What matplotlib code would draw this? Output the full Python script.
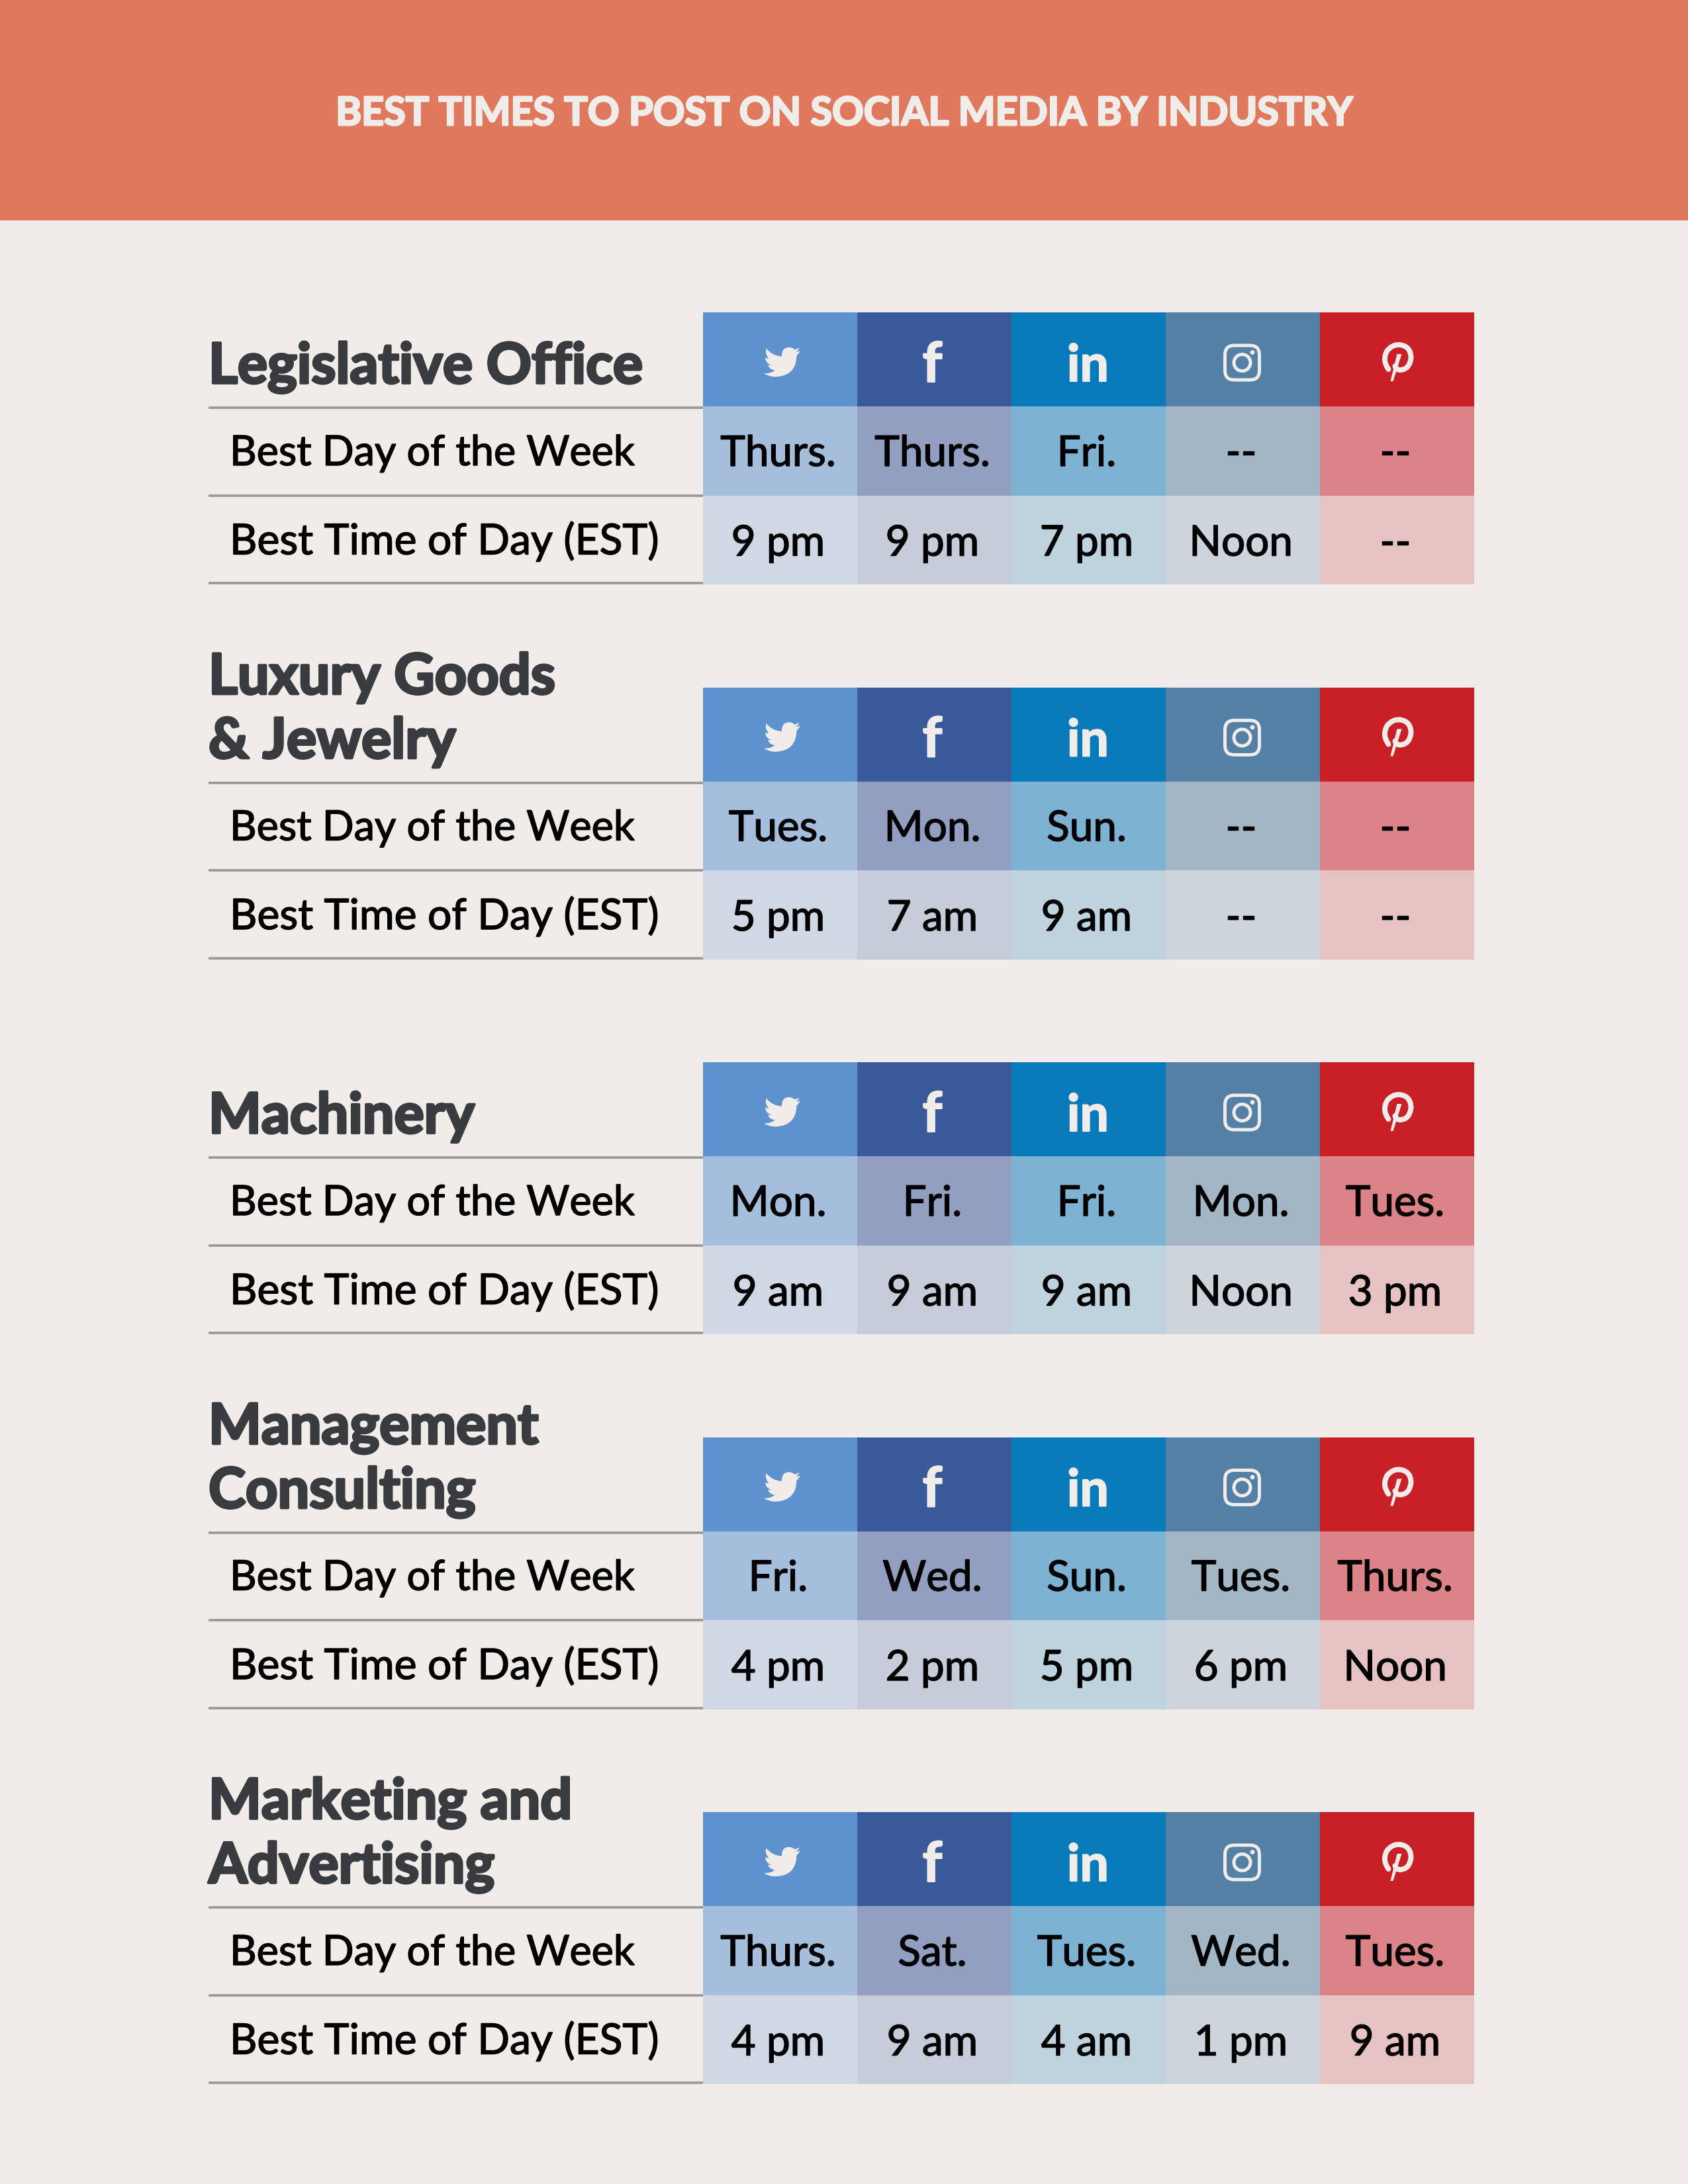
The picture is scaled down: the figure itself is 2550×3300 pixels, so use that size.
import matplotlib
matplotlib.use("Agg")
import matplotlib.pyplot as plt
import matplotlib.patheffects as pe
from matplotlib.patches import Rectangle, FancyBboxPatch, Circle, PathPatch
from matplotlib.path import Path

# Data
title = "BEST TIMES TO POST ON SOCIAL MEDIA BY INDUSTRY"
industries = [
    ["Legislative Office"],
    ["Luxury Goods", "& Jewelry"],
    ["Machinery"],
    ["Management", "Consulting"],
    ["Marketing and", "Advertising"],
]
row_labels = ["Best Day of the Week", "Best Time of Day (EST)"]
best_days = [
    ["Thurs.", "Thurs.", "Fri.", "--", "--"],
    ["Tues.", "Mon.", "Sun.", "--", "--"],
    ["Mon.", "Fri.", "Fri.", "Mon.", "Tues."],
    ["Fri.", "Wed.", "Sun.", "Tues.", "Thurs."],
    ["Thurs.", "Sat.", "Tues.", "Wed.", "Tues."],
]
best_times = [
    ["9 pm", "9 pm", "7 pm", "Noon", "--"],
    ["5 pm", "7 am", "9 am", "--", "--"],
    ["9 am", "9 am", "9 am", "Noon", "3 pm"],
    ["4 pm", "2 pm", "5 pm", "6 pm", "Noon"],
    ["4 pm", "9 am", "4 am", "1 pm", "9 am"],
]

# Colours
bg = "#F0ECE9"
banner = "#DF785D"
dark = "#3A3B3F"
rule = "#999999"
head_colors = ["#5E92CE", "#3A5999", "#077BBA", "#5480A6", "#C92027"]
day_colors = ["#A5BEDC", "#929FC0", "#7DB2D2", "#A2B6C6", "#DC8387"]
time_colors = ["#D0D8E3", "#C7CCD9", "#BFD3DE", "#CDD4DC", "#E6C3C2"]

# Layout in pixels
W, H = 2550, 3300
left = 315
x0 = 1062
col_w = 233
block_step = 566.5
first_top = 472
head_h = 142
row_h = 134.5

plt.rcParams["font.family"] = ["Lato", "DejaVu Sans"]
fig = plt.figure(figsize=(8.5, 11), dpi=300, facecolor=bg)
ax = fig.add_axes([0, 0, 1, 1])
ax.set_xlim(0, W)
ax.set_ylim(H, 0)
ax.axis("off")


def thicken(color, width):
    # Lato here stops at bold, so the heavy text gets a thin outline
    return [pe.withStroke(linewidth=width, foreground=color)]


twitter_verts = [
    (23.95, 4.57), (22.6, 5.2), (21.13, 5.35), (22.7, 4.4), (23.29, 2.62),
    (21.8, 3.5), (20.16, 3.8), (18.8, 2.3), (16.6, 2.3), (11.6, 2.4), (11.78, 8.29),
    (5.6, 8.0), (1.64, 3.16), (0.3, 5.9), (3.16, 9.73), (1.9, 9.7), (0.93, 9.11),
    (1.0, 12.9), (4.88, 13.94), (3.8, 14.2), (2.67, 14.02), (3.6, 17.0), (7.27, 17.44),
    (4.2, 19.8), (0, 19.5), (3.5, 21.76), (7.56, 21.76), (21.4, 21.3), (21.54, 7.78),
    (23.0, 6.7), (23.95, 4.57),
]
twitter_codes = [Path.MOVETO] + [Path.CURVE3] * (len(twitter_verts) - 1)


def draw_twitter(cx, cy):
    s = 55 / 24.0
    verts = [(cx + (x - 12) * s, cy + (y - 12) * s) for x, y in twitter_verts]
    ax.add_patch(PathPatch(Path(verts, twitter_codes), fc=bg, lw=0))


def draw_instagram(cx, cy):
    ax.add_patch(FancyBboxPatch((cx - 21, cy - 21), 42, 42, boxstyle="round,pad=5,rounding_size=14",
                                fc="none", ec=bg, lw=1.2))
    ax.add_patch(Circle((cx, cy), 12.5, fc="none", ec=bg, lw=1.2))
    ax.add_patch(Circle((cx + 15.5, cy - 15.5), 3.4, fc=bg, lw=0))


def draw_pinterest(cx, cy):
    # bowl of the p as one thick curve, then the tail
    bowl = [(cx - 14, cy + 11), (cx - 24, cy - 3), (cx - 16, cy - 17), (cx - 8, cy - 27), (cx + 3, cy - 26),
            (cx + 20, cy - 24), (cx + 20, cy - 6), (cx + 18, cy + 11), (cx + 4, cy + 12), (cx - 3, cy + 12),
            (cx - 4, cy + 6)]
    codes = [Path.MOVETO] + [Path.CURVE3] * 10
    ax.add_patch(PathPatch(Path(bowl, codes), fc="none", ec=bg, lw=1.9, capstyle="round"))
    stem = [(cx - 1, cy - 12), (cx + 6, cy - 12), (cx - 7, cy + 29), (cx - 11, cy + 29)]
    ax.add_patch(PathPatch(Path(stem + [stem[0]], closed=True), fc=bg, lw=0))


def draw_icons(top):
    cy = top + 74
    centers = [x0 + col_w * (i + 0.5) for i in range(5)]
    draw_twitter(centers[0] + 3, cy + 1)
    ax.text(centers[1] - 3, cy + 31, "f", fontsize=20, fontweight="bold", color=bg, ha="center", va="baseline",
            path_effects=thicken(bg, 0.5))
    ax.text(centers[2] - 1, cy + 30, "in", fontsize=18.5, fontweight="bold", color=bg, ha="center", va="baseline",
            path_effects=thicken(bg, 0.5))
    draw_instagram(centers[3] - 1, cy + 2)
    draw_pinterest(centers[4] + 1, cy + 1)


# Banner
ax.add_patch(Rectangle((0, 0), W, 333, fc=banner, lw=0))
ax.text(1275, 189, title, fontsize=14.2, fontweight="bold", color=bg, ha="center", va="baseline",
        path_effects=thicken(bg, 0.7))

for b in range(5):
    top = first_top + block_step * b
    y1 = top + head_h
    y2 = y1 + row_h
    y3 = y2 + row_h

    for c in range(5):
        x = x0 + col_w * c
        ax.add_patch(Rectangle((x, top), col_w, head_h, fc=head_colors[c], lw=0))
        ax.add_patch(Rectangle((x, y1), col_w, row_h, fc=day_colors[c], lw=0))
        ax.add_patch(Rectangle((x, y2), col_w, row_h, fc=time_colors[c], lw=0))
        ax.text(x + col_w / 2 - 3, y1 + 90, best_days[b][c], fontsize=15.3, fontweight="normal", color="black",
                ha="center", va="baseline", path_effects=thicken("black", 0.35))
        ax.text(x + col_w / 2 - 3, y2 + 91, best_times[b][c], fontsize=15.3, fontweight="normal", color="black",
                ha="center", va="baseline", path_effects=thicken("black", 0.35))
    draw_icons(top)

    # rules under the heading and the two rows
    for y in (y1 + 2, y2, y3 - 2):
        ax.plot([left, x0], [y, y], color=rule, lw=0.9, solid_capstyle="butt")

    # heading, last line sits just above the first rule
    lines = industries[b]
    for i, line in enumerate(lines):
        base = top + 107 - 97 * (len(lines) - 1 - i)
        ax.text(315, base, line, fontsize=20.3, fontweight="bold", color=dark, ha="left", va="baseline",
                path_effects=thicken(dark, 0.9))

    ax.text(347, y1 + 89, row_labels[0], fontsize=15.1, fontweight="normal", color="black", ha="left", va="baseline",
            path_effects=thicken("black", 0.35))
    ax.text(347, y2 + 89, row_labels[1], fontsize=15.4, fontweight="normal", color="black", ha="left", va="baseline",
            path_effects=thicken("black", 0.35))

fig.savefig("out.png", dpi=300, facecolor=bg)
